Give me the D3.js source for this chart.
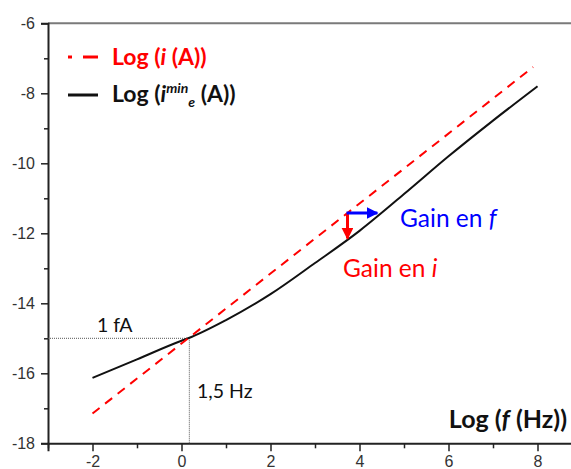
<!DOCTYPE html>
<html>
<head>
<meta charset="utf-8">
<script src="https://cdn.jsdelivr.net/npm/d3@7"></script>
<style>
  html, body { margin: 0; padding: 0; background: #fff; overflow: hidden; }
  svg { display: block; }
</style>
</head>
<body>
<script>
// ---- data ----
const xTicks = [-2, 0, 2, 4, 6, 8];
const xMinorTicks = [-3, -1, 1, 3, 5, 7];
const yTicks = [-6, -8, -10, -12, -14, -16, -18];
const yMinorTicks = [-7, -9, -11, -13, -15, -17];

const redF = [-2, 7.9];
const redI = [-17.15, -7.25];

const blackF = [-2, -1, 0, 0.15, 1, 2, 3, 4, 5, 6, 7, 8];
const blackI = [-16.13, -15.6, -15.07, -15.0, -14.48, -13.74, -12.85, -11.93, -10.88, -9.8, -8.78, -7.8];

const refF = 0.176;   // log(1.5 Hz)
const refI = -15;     // log(1 fA)

// ---- layout ----
const W = 571, H = 469;
const svg = d3.select("body").append("svg").attr("width", W).attr("height", H);

const x = d3.scaleLinear().domain([-3, 9]).range([48, 582]);
const y = d3.scaleLinear().domain([-18, -6]).range([443.3, 23.3]);

const tickFont = "'Liberation Sans', Arial, sans-serif";
const textFont = "Lato, 'Open Sans', sans-serif";

// top frame
svg.append("line").attr("x1", x(-3)).attr("x2", W).attr("y1", y(-6)).attr("y2", y(-6))
  .attr("stroke", "#7a7a7a").attr("stroke-width", 2);

// axes
const xAxis = svg.append("g").attr("transform", `translate(0,${y(-18)})`)
  .call(d3.axisBottom(x).tickValues(xTicks).tickSize(8).tickPadding(4).tickFormat(d3.format("d")));
const xMinor = svg.append("g").attr("transform", `translate(0,${y(-18)})`)
  .call(d3.axisBottom(x).tickValues(xMinorTicks).tickSize(5).tickFormat(""));
const yAxis = svg.append("g").attr("transform", `translate(${x(-3)},0)`)
  .call(d3.axisLeft(y).tickValues(yTicks).tickSize(7).tickPadding(6).tickFormat(d3.format("d")));
const yMinor = svg.append("g").attr("transform", `translate(${x(-3)},0)`)
  .call(d3.axisLeft(y).tickValues(yMinorTicks).tickSize(4).tickFormat(""));

[xAxis, xMinor, yAxis, yMinor].forEach(g => {
  g.select(".domain").attr("stroke", "#222").attr("stroke-width", 2);
  g.selectAll(".tick line").attr("stroke", "#222").attr("stroke-width", 1.5);
  g.selectAll(".tick text").attr("fill", "#333").attr("font-size", 16).attr("font-family", tickFont);
});
xMinor.select(".domain").remove();
yMinor.select(".domain").remove();
yAxis.selectAll(".tick text").text(d => d < 0 ? "-" + Math.abs(d) : d);
xAxis.selectAll(".tick text").text(d => d < 0 ? "-" + Math.abs(d) : d);

// reference dotted lines
svg.append("line").attr("x1", x(-3)).attr("x2", x(refF)).attr("y1", y(refI)).attr("y2", y(refI))
  .attr("stroke", "#555").attr("stroke-width", 1).attr("stroke-dasharray", "1,1");
svg.append("line").attr("x1", x(refF)).attr("x2", x(refF)).attr("y1", y(refI)).attr("y2", y(-18))
  .attr("stroke", "#555").attr("stroke-width", 1).attr("stroke-dasharray", "1,1");

// lines
const line = d3.line().x(d => x(d[0])).y(d => y(d[1]));
const smooth = d3.line().x(d => x(d[0])).y(d => y(d[1])).curve(d3.curveMonotoneX);
svg.append("path").datum(blackF.map((f, i) => [f, blackI[i]]))
  .attr("d", smooth).attr("fill", "none").attr("stroke", "#111").attr("stroke-width", 2);
svg.append("path").datum(redF.map((f, i) => [f, redI[i]]))
  .attr("d", line).attr("fill", "none").attr("stroke", "#ff0000").attr("stroke-width", 2)
  .attr("stroke-dasharray", "9,7");

// annotations
svg.append("text").attr("x", 97).attr("y", 332).attr("font-family", textFont)
  .attr("font-size", 19.5).attr("fill", "#111").text("1 fA");
svg.append("text").attr("x", 197).attr("y", 398).attr("font-family", textFont)
  .attr("font-size", 19.5).attr("fill", "#111").text("1,5 Hz");

// gain arrows
const defs = svg.append("defs");
function marker(id, color) {
  defs.append("marker").attr("id", id).attr("viewBox", "0 0 10 10").attr("refX", 9).attr("refY", 5)
    .attr("markerWidth", 4).attr("markerHeight", 4).attr("orient", "auto")
    .attr("markerUnits", "strokeWidth")
    .append("path").attr("d", "M0,0 L10,5 L0,10 z").attr("fill", color);
}
marker("arrRed", "#ff0000");
marker("arrBlue", "#0000ff");
const ax = x(3.73), ay = y(-11.42);
svg.append("line").attr("x1", ax).attr("y1", ay).attr("x2", ax).attr("y2", y(-12.15))
  .attr("stroke", "#ff0000").attr("stroke-width", 3).attr("marker-end", "url(#arrRed)");
svg.append("line").attr("x1", ax - 1).attr("y1", ay).attr("x2", x(4.4)).attr("y2", ay)
  .attr("stroke", "#0000ff").attr("stroke-width", 3).attr("marker-end", "url(#arrBlue)");

const gf = svg.append("text").attr("x", 400).attr("y", 227).attr("font-family", textFont)
  .attr("font-size", 24.5).attr("fill", "#0000ff");
gf.append("tspan").text("Gain en ");
gf.append("tspan").attr("font-style", "italic").text("f");
const gi = svg.append("text").attr("x", 343).attr("y", 277).attr("font-family", textFont)
  .attr("font-size", 24.5).attr("fill", "#ff0000");
gi.append("tspan").text("Gain en ");
gi.append("tspan").attr("font-style", "italic").text("i");

// axis title
const xt = svg.append("text").attr("x", 567).attr("y", 428).attr("text-anchor", "end")
  .attr("font-family", textFont).attr("font-weight", "bold").attr("font-size", 25).attr("fill", "#111");
xt.append("tspan").text("Log (");
xt.append("tspan").attr("font-style", "italic").text("f");
xt.append("tspan").text(" (Hz))");

// legend
svg.append("line").attr("x1", 68).attr("x2", 72).attr("y1", 57).attr("y2", 57)
  .attr("stroke", "#ff0000").attr("stroke-width", 3);
svg.append("line").attr("x1", 83).attr("x2", 98).attr("y1", 57).attr("y2", 57)
  .attr("stroke", "#ff0000").attr("stroke-width", 3);
svg.append("line").attr("x1", 68).attr("x2", 98).attr("y1", 95).attr("y2", 95)
  .attr("stroke", "#111").attr("stroke-width", 3);

const l1 = svg.append("text").attr("x", 112).attr("y", 65).attr("font-family", textFont)
  .attr("font-weight", "bold").attr("font-size", 23).attr("fill", "#ff0000");
l1.append("tspan").text("Log (");
l1.append("tspan").attr("font-style", "italic").text("i");
l1.append("tspan").text(" (A))");

const l2 = svg.append("text").attr("x", 112).attr("y", 102).attr("font-family", textFont)
  .attr("font-weight", "bold").attr("font-size", 23).attr("fill", "#111");
l2.append("tspan").text("Log (");
l2.append("tspan").attr("font-style", "italic").text("i");
l2.append("tspan").attr("font-style", "italic").attr("font-size", 14).attr("dy", -9).text("min");
l2.append("tspan").attr("font-style", "italic").attr("font-size", 14).attr("dy", 14).text("e");
l2.append("tspan").attr("dy", -5).text(" (A))");
</script>
</body>
</html>
